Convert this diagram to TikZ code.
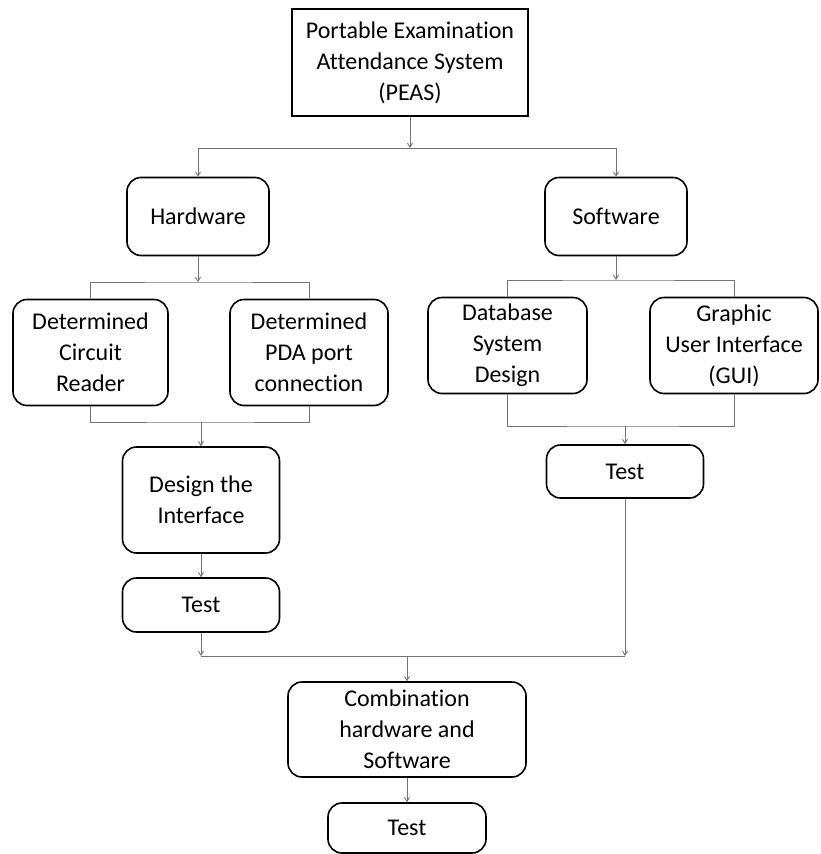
\documentclass[tikz,border=0pt]{standalone}
\usepackage{fontspec}
\setmainfont{Carlito}[Ligatures=NoCommon]
\usetikzlibrary{arrows.meta}
\begin{document}
\begin{tikzpicture}[x=1pt,y=-1pt,
  roundbox/.style={draw=black, line width=1.6pt, rounded corners=14pt, align=center, inner sep=0pt, font=\fontsize{24}{31}\selectfont},
  conn/.style={draw=black!55, line width=0.9pt},
  connarr/.style={conn, -{Straight Barb[length=4pt,width=5pt]}}]

\useasboundingbox (0,0) rectangle (821,854);

\node[roundbox, sharp corners, minimum width=236pt, minimum height=107pt] (peas) at (410,62.5) {Portable Examination\\Attendance System\\(PEAS)};

\node[roundbox, minimum width=142pt, minimum height=78pt] (hw) at (198,216.5) {Hardware};
\node[roundbox, minimum width=142pt, minimum height=78pt] (sw) at (616,216.5) {Software};

\node[roundbox, minimum width=155pt, minimum height=106pt] (circ) at (90.5,352.5) {Determined\\Circuit\\Reader};
\node[roundbox, minimum width=158pt, minimum height=106pt] (pda) at (309,352.5) {Determined\\PDA port\\connection};
\node[roundbox, minimum width=159pt, minimum height=96pt] (db) at (507.5,345.5) {Database\\System\\Design};
\node[roundbox, minimum width=168pt, minimum height=96pt] (gui) at (734,345.5) {Graphic\\User Interface\\(GUI)};

\node[roundbox, minimum width=157pt, minimum height=106pt] (dsg) at (201,500) {Design the\\Interface};
\node[roundbox, minimum width=157pt, minimum height=54pt] (testl) at (201,605) {Test};
\node[roundbox, minimum width=157pt, minimum height=53pt] (testr) at (625,471.5) {Test};

\node[roundbox, minimum width=238pt, minimum height=95pt] (comb) at (407,729.5) {Combination\\hardware and\\Software};
\node[roundbox, minimum width=158pt, minimum height=50pt] (testb) at (407,828) {Test};

\coordinate (topbus) at (0,148);
\coordinate (hwbus) at (0,282);
\coordinate (hwjoin) at (0,422);
\coordinate (swbus) at (0,280);
\coordinate (swjoin) at (0,426);
\coordinate (endbus) at (0,656);

\draw[connarr] (peas.south) -- (peas.south |- topbus);
\draw[connarr] (peas.south |- topbus) -| (hw.north);
\draw[connarr] (peas.south |- topbus) -| (sw.north);

\draw[connarr] (hw.south) -- (hw.south |- hwbus);
\draw[conn] (circ.north) |- (hw.south |- hwbus) -| (pda.north);
\draw[conn] (circ.south) |- (dsg.north |- hwjoin) -| (pda.south);
\draw[connarr] (dsg.north |- hwjoin) -- (dsg.north);
\draw[connarr] (dsg.south) -- (testl.north);

\draw[connarr] (sw.south) -- (sw.south |- swbus);
\draw[conn] (db.north) |- (sw.south |- swbus) -| (gui.north);
\draw[conn] (db.south) |- (testr.north |- swjoin) -| (gui.south);
\draw[connarr] (testr.north |- swjoin) -- (testr.north);

\draw[connarr] (testl.south) -- (testl.south |- endbus);
\draw[connarr] (testr.south) -- (testr.south |- endbus);
\draw[conn] (testl.south |- endbus) -- (testr.south |- endbus);
\draw[connarr] (comb.north |- endbus) -- (comb.north);
\draw[connarr] (comb.south) -- (testb.north);

\end{tikzpicture}
\end{document}
